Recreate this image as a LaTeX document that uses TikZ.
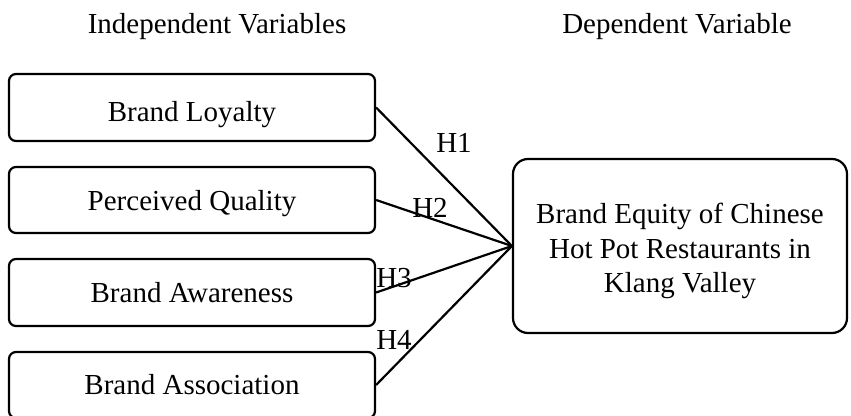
\documentclass[tikz,border=0pt]{standalone}
\usepackage{fontspec}
\setmainfont{Liberation Serif}
\begin{document}
\begin{tikzpicture}[x=1pt,y=-1pt,
  every node/.style={font=\fontsize{29}{33.5}\selectfont, inner sep=0pt},
  ivbox/.style={draw, line width=2.2pt, rounded corners=7pt, minimum width=366pt, text depth=0pt},
  dvbox/.style={draw, line width=2.2pt, rounded corners=15pt, minimum width=334pt, minimum height=174pt},
  dvtext/.style={align=center, font=\fontsize{29}{34.5}\selectfont},
  link/.style={line width=2.2pt},
  hlabel/.style={}]
\useasboundingbox (0,0) rectangle (851,415);
\node[anchor=base] (t1) at (217,33) {Independent Variables};
\node[anchor=base] (t2) at (677,33) {Dependent Variable};
\node[ivbox, minimum height=67pt, text height=27pt] (b1) at (192,107.5) {Brand Loyalty};
\node[ivbox, minimum height=66pt, text height=20pt] (b2) at (192,200) {Perceived Quality};
\node[ivbox, minimum height=67pt, text height=19pt] (b3) at (192,292.5) {Brand Awareness};
\node[ivbox, minimum height=66pt, text height=18pt] (b4) at (192,385) {Brand Association};
\node[dvbox] (dv) at (680,246) {};
\node[dvtext] (dvt) at (680,251) {Brand Equity of Chinese\\Hot Pot Restaurants in\\Klang Valley};
\draw[link] (b1.east) -- (dv.west);
\draw[link] (b2.east) -- (dv.west);
\draw[link] (b3.east) -- (dv.west);
\draw[link] (b4.east) -- (dv.west);
\node[hlabel] (h1) at (454,143) {H1};
\node[hlabel] (h2) at (430,208) {H2};
\node[hlabel] (h3) at (394,278) {H3};
\node[hlabel] (h4) at (394,340) {H4};
\end{tikzpicture}
\end{document}
